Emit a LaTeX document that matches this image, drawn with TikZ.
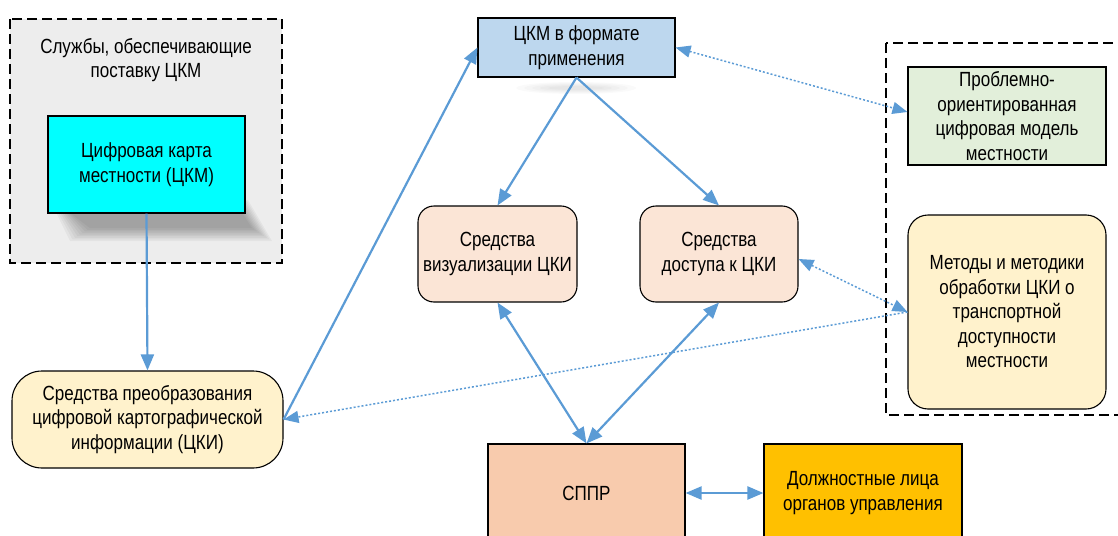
\documentclass[tikz,border=0pt]{standalone}
\usepackage{fontspec}
\setmainfont{Liberation Sans}[FakeStretch=0.83]
\usetikzlibrary{arrows.meta}
\definecolor{arrowblue}{HTML}{5B9BD5}
\definecolor{groupgray}{HTML}{EDEDED}
\definecolor{cyanfill}{HTML}{00FFFF}
\definecolor{topblue}{HTML}{BDD7EE}
\definecolor{greenfill}{HTML}{E2EFDA}
\definecolor{creamfill}{HTML}{FFF2CC}
\definecolor{peachfill}{HTML}{FBE5D6}
\definecolor{salmonfill}{HTML}{F8CBAD}
\definecolor{ambfill}{HTML}{FFC000}
\tikzset{
  box/.style={draw=black, line width=1.1pt, align=center, inner sep=0pt,
    font=\fontsize{20.5}{24.5}\selectfont},
  roundbox/.style={box, rounded corners=#1},
  groupbox/.style={draw=black, line width=1.5pt, dash pattern=on 10pt off 5pt},
  link/.style={draw=arrowblue, line width=2.2pt, -{Triangle[length=16pt,width=13pt]}},
  biglink/.style={draw=arrowblue, line width=2.2pt, {Triangle[length=16pt,width=13pt]}-{Triangle[length=16pt,width=13pt]}},
  dotlink/.style={draw=arrowblue, line width=1.5pt, dash pattern=on 2pt off 2pt,
    {Triangle[length=15pt,width=12pt]}-{Triangle[length=15pt,width=12pt]}},
  dotend/.style={draw=arrowblue, line width=1.5pt, dash pattern=on 2pt off 2pt,
    -{Triangle[length=15pt,width=12pt]}},
}
\begin{document}
\begin{tikzpicture}[x=1pt,y=-1pt]
\useasboundingbox (0,0) rectangle (1118,535);
\begin{scope}
\clip (0,0) rectangle (1118,535);

% supplier services group
\draw[groupbox, fill=groupgray] (10,19) rectangle (282,263);
\node[font=\fontsize{20.5}{24.5}\selectfont, align=center] (svc) at (146,60)
  {Службы, обеспечивающие\\поставку ЦКМ};

% soft slanted shadow cast below the map box
\foreach \k in {0,...,8}
  \fill[black, opacity=0.04]
    (50+\k*2,200+\k*1.2) -- (248-\k*1,200+\k*1.2) -- (272-\k*2.5,241-\k*1.6) -- (70+\k*2.5,241-\k*1.6) -- cycle;

% right-hand group
\draw[groupbox] (886,43) rectangle (1130,415);

% faint shadow under the top box
\foreach \k in {0,...,4}
  \fill[black, opacity=0.02] (576,88) ellipse ({60-\k*8} and {6-\k});

% nodes
\node[box, fill=cyanfill, minimum width=197pt, minimum height=97pt] (map) at (146.5,164.5)
  {Цифровая карта\\местности (ЦКМ)};
\node[box, fill=topblue, minimum width=197pt, minimum height=59pt] (top) at (576.5,47.5)
  {ЦКМ в формате\\применения};
\node[box, fill=greenfill, minimum width=198pt, minimum height=98pt] (model) at (1007,116)
  {Проблемно-\\ориентированная\\цифровая модель\\местности};
\node[roundbox=20pt, fill=creamfill, minimum width=198pt, minimum height=194pt] (methods) at (1007,312)
  {Методы и методики\\обработки ЦКИ о\\транспортной\\доступности\\местности};
\node[roundbox=16pt, fill=peachfill, minimum width=159pt, minimum height=96pt] (vis) at (497.5,254)
  {Средства\\визуализации ЦКИ};
\node[roundbox=16pt, fill=peachfill, minimum width=158pt, minimum height=96pt] (access) at (719,254)
  {Средства\\доступа к ЦКИ};
\node[roundbox=30pt, fill=creamfill, minimum width=271pt, minimum height=97pt] (conv) at (147.5,419.5)
  {Средства преобразования\\цифровой картографической\\информации (ЦКИ)};
\node[box, fill=salmonfill, minimum width=197pt, minimum height=98pt] (dss) at (586.5,493)
  {СППР};
\node[box, fill=ambfill, minimum width=198pt, minimum height=98pt] (staff) at (863,493)
  {Должностные лица\\органов управления};

% connectors
\draw[link] (map.south) -- (conv.north);
\draw[link] (conv.east) -- (top.west);
\draw[link] (top.south) -- (vis.north);
\draw[link] (top.south) -- (access.north);
\draw[biglink] (vis.south) -- (dss.north);
\draw[biglink] (access.south) -- (dss.north);
\draw[biglink] (dss.east) -- (staff.west);
\draw[dotlink] (top.east) -- ([yshift=4pt]model.west);
\draw[dotlink] ([yshift=-5pt]access.east) -- (methods.west);
\draw[dotend] (methods.west) -- (conv.east);
\end{scope}
\end{tikzpicture}
\end{document}
